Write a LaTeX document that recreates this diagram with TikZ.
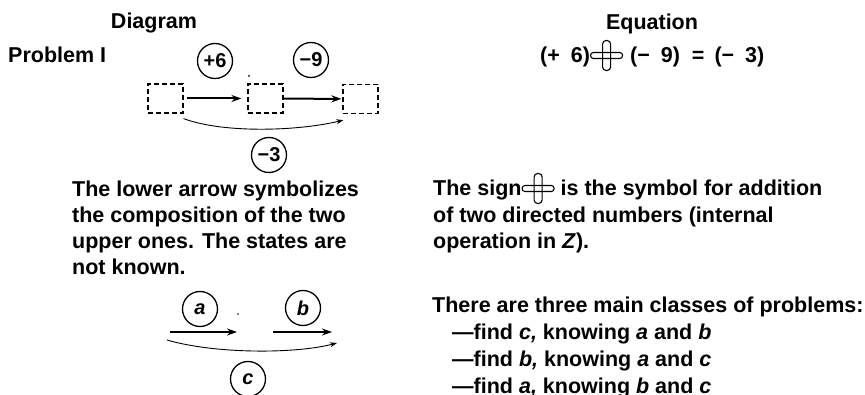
\documentclass[tikz,border=0pt]{standalone}
\usepackage{fontspec}
\setmainfont{Liberation Sans}
\usetikzlibrary{arrows.meta}

% the sign for addition of directed numbers
\newcommand{\addsign}{\tikz[baseline={(0pt,-7.5pt)}]{%
  \draw[line width=1.1pt,rounded corners=2.8pt] (-16pt,-3pt) rectangle (16pt,3pt);
  \draw[line width=1.1pt,rounded corners=3.5pt] (-4pt,-15pt) rectangle (4pt,15pt);}}

\tikzset{
  state/.style={draw,dash pattern=on 5pt off 3pt,line width=1.2pt,minimum width=35pt,minimum height=29pt,inner sep=0pt},
  op/.style={draw,circle,line width=1.3pt,minimum size=35pt,inner sep=0pt,font=\fontsize{20}{24}\selectfont\bfseries},
  opvar/.style={op,font=\fontsize{20}{24}\selectfont\bfseries\itshape},
  move/.style={line width=2pt,-{Stealth[length=10pt,width=7pt]}},
  comp/.style={line width=0.9pt,-{Stealth[length=7pt,width=5pt]}},
  txt/.style={anchor=base west,inner sep=0pt,align=left,font=\fontsize{21.5}{26.3}\selectfont\bfseries},
  head/.style={anchor=base,inner sep=0pt,font=\fontsize{21.5}{26.3}\selectfont\bfseries}
}

\begin{document}
\begin{tikzpicture}[x=1pt,y=-1pt]
\useasboundingbox (0,0) rectangle (865,395);
% headings
\node[head] (diag) at (154,29) {Diagram};
\node[head] (equ) at (652,30) {Equation};
\node[txt] (prob) at (8,63) {Problem I};

% problem I
\node[state] (s1) at (165.5,98.5) {};
\node[state] (s2) at (265.5,98.5) {};
\node[state] (s3) at (360.5,99) {};
\node[op] (p6) at (215,61) {+6};
\node[op] (m9) at (311,60) {−9};
\node[op] (m3) at (269,155) {−3};
\draw[move,shorten <=3pt,shorten >=6pt] (s1) -- (s2);
\draw[move,shorten >=1pt] (s2) -- (s3);
\draw[comp] ([yshift=-5pt]s1.south east) .. controls +(40,15) and +(-45,11) .. ([xshift=1pt,yshift=-6pt]s3.south west);
\fill (249,76) circle (1pt);

\node[txt] (eq) at (540,63) {(+\hspace{11pt}6)\addsign\hspace{7pt}(−\hspace{11pt}9)\hspace{12pt}=\hspace{10pt}(−\hspace{11pt}3)};

% explanations (base = last line)
\node[txt] (lower) at (72,275) {The lower arrow symbolizes\\the composition of the two\\upper ones. The states are\\not known.};
\node[txt] (sign) at (433,248.6) {The sign\addsign{} is the symbol for addition\\of two directed numbers (internal\\operation in \textit{Z}).};

% general case
\coordinate (a0) at (170,332);
\coordinate (a1) at (237,332);
\coordinate (b0) at (273,332);
\coordinate (b1) at (332,332);
\coordinate (c0) at (167,340);
\coordinate (c1) at (337,343);
\node[opvar] (na) at (200,309) {a};
\node[opvar] (nb) at (303,308) {b};
\node[opvar] (nc) at (248,379) {c};
\draw[move] (a0) -- (a1);
\draw[move] (b0) -- (b1);
\draw[comp] (c0) .. controls (215,354) and (295,354) .. (c1);
\fill (238,314) circle (0.8pt);

\node[txt,font=\fontsize{21.5}{27}\selectfont\bfseries] (classes) at (432,393) {There are three main classes of problems:\\
\hspace*{20pt}—find \textit{c,} knowing \textit{a} and \textit{b}\\
\hspace*{20pt}—find \textit{b,} knowing \textit{a} and \textit{c}\\
\hspace*{20pt}—find \textit{a,} knowing \textit{b} and \textit{c}};
\end{tikzpicture}
\end{document}
